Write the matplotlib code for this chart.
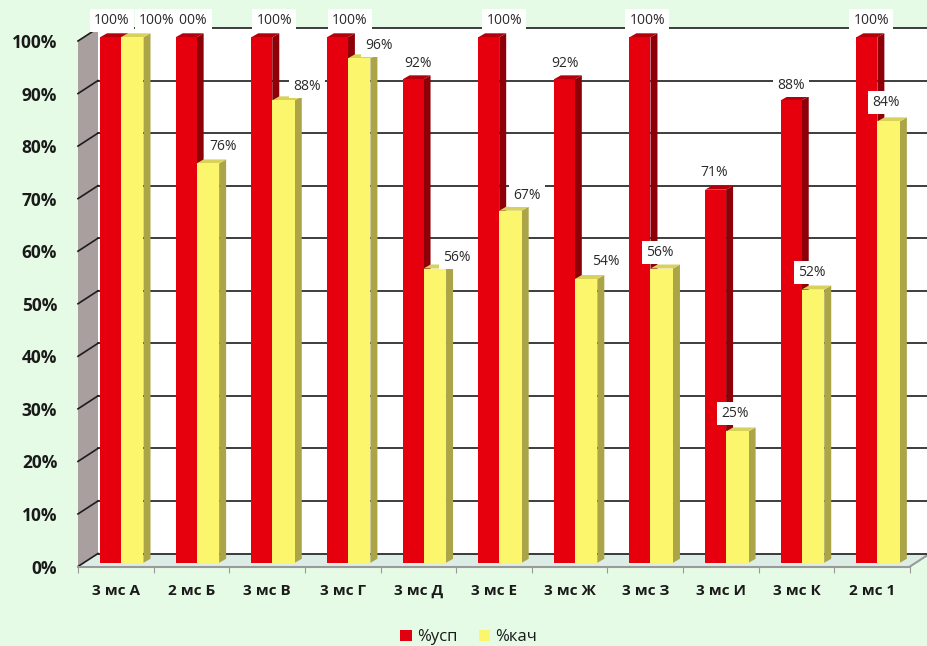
import matplotlib
matplotlib.use("Agg")
import matplotlib.pyplot as plt
from matplotlib.patches import Polygon, Rectangle, Patch

plt.rcParams['font.family'] = ['Open Sans', 'DejaVu Sans']

categories = ['3 мс А', '2 мс Б', '3 мс В', '3 мс Г', '3 мс Д', '3 мс Е', '3 мс Ж', '3 мс З', '3 мс И', '3 мс К', '2 мс 1']
usp = [100, 100, 100, 100, 92, 100, 92, 100, 71, 88, 100]
kach = [100, 76, 88, 96, 56, 67, 54, 56, 25, 52, 84]
y_ticks = list(range(0, 101, 10))
series_names = ['%усп', '%кач']

# label nudges, pixels from the bar's left top corner (layout only)
usp_dx = [12, 14, 23, 23, 15, 26, 11, 18, 9, 10, 15]
usp_dy = [13, 13, 13, 13, 12, 13, 12, 13, 13, 11, 13]
kach_dx = [36, 26, 35, 31, 33, 28, 31, 9, 9, 10, 9]
kach_dy = [13, 13, 10, 9, 7, 11, 14, 12, 14, 13, 15]

W, H = 928, 646
L, R, B, T = 78, 910, 566.5, 41
BG = '#E6FBE6'
fig = plt.figure(figsize=(W / 100, H / 100), dpi=100, facecolor=BG)
ax = fig.add_axes([L / W, 1 - B / H, (R - L) / W, (B - T) / H])
ax.set_xlim(0, len(categories))
ax.set_ylim(0, 100)
ax.patch.set_alpha(0)

ux = (R - L) / len(categories)   # px per category
uy = (B - T) / 100               # px per percent
wall_dx, wall_dy = 20 / ux, 13 / uy
depth_dx, depth_dy = 7 / ux, 4 / uy
base = 3.7 / uy
red_off, red_w = 22 / ux, 21 / ux
yel_off, yel_w = 43 / ux, 22.5 / ux
n = len(categories)

kw = dict(clip_on=False)
# back wall
ax.add_patch(Rectangle((wall_dx, wall_dy), n, 100, fc='white', ec='none', zorder=1, **kw))
# floor
ax.add_patch(Polygon([(0, 0), (n, 0), (n + wall_dx, wall_dy), (wall_dx, wall_dy)], fc='#DCEDE6', ec='none', zorder=1, **kw))
ax.plot([n, n + wall_dx], [0, wall_dy], color='#9a9a9a', lw=1.5, zorder=1.5, **kw)
# left wall
ax.add_patch(Polygon([(0, 0), (wall_dx, wall_dy), (wall_dx, 100 + wall_dy), (0, 100)], fc='#A99F9F', ec='none', zorder=1, **kw))
# grid lines
for v in y_ticks:
    ax.plot([wall_dx, n + wall_dx], [v + wall_dy] * 2, color='#1c1c1c', lw=1.2, zorder=2, **kw)
    ax.plot([0, wall_dx], [v, v + wall_dy], color='#1c1c1c', lw=1.2, zorder=2, **kw)


def bar3d(x, w, v, front, top, side, z):
    y0, y1 = base, base + v
    ax.add_patch(Polygon([(x + w, y0), (x + w + depth_dx, y0 + depth_dy), (x + w + depth_dx, y1 + depth_dy), (x + w, y1)],
                         fc=side, ec='none', zorder=z, **kw))
    ax.add_patch(Polygon([(x, y1), (x + depth_dx, y1 + depth_dy), (x + w + depth_dx, y1 + depth_dy), (x + w, y1)],
                         fc=top, ec='none', zorder=z, **kw))
    ax.add_patch(Rectangle((x, y0), w, v, fc=front, ec='none', zorder=z, **kw))


for i in range(n):
    bar3d(i + red_off, red_w, usp[i], '#E6000E', '#B4000A', '#8E0008', 3 + i * 0.01)
    bar3d(i + yel_off, yel_w, kach[i], '#FCF66C', '#D8D25A', '#ABA548', 3.5 + i * 0.01)

# value labels; earlier ones sit on top, so their white boxes can cover later ones
box = dict(boxstyle='square,pad=0.3', fc='white', ec='none')
for i in range(n):
    for vals, ref, dxs, dys, z in ((usp, red_off, usp_dx, usp_dy, 6), (kach, yel_off, kach_dx, kach_dy, 7)):
        ax.annotate(f'{vals[i]}%', (i + ref, base + vals[i] + depth_dy),
                    xytext=(dxs[i], dys[i]), textcoords='offset pixels',
                    ha='center', va='center', fontsize=10, color='#2a2a2a',
                    bbox=box, zorder=z + (n - i) * 0.01, annotation_clip=False)

for s in ('top', 'left', 'right'):
    ax.spines[s].set_visible(False)
ax.spines['bottom'].set_color('#9a9a9a')
ax.spines['bottom'].set_linewidth(1.5)
ax.spines['bottom'].set_zorder(2)

ax.set_yticks(y_ticks, [f'{v}%' for v in y_ticks], fontsize=12.5, fontweight='bold', color='#1a1a1a')
ax.tick_params(axis='y', length=0, pad=15)
ax.set_xticks(range(n + 1))
ax.tick_params(axis='x', length=4, color='#9a9a9a', labelbottom=False)
ax.set_xticks([i + 0.5 for i in range(n)], categories, minor=True, fontsize=11, fontweight='bold', color='#1a1a1a')
ax.tick_params(axis='x', which='minor', length=0, pad=12.5)

fig.legend(handles=[Patch(fc='#E00010', label=series_names[0]), Patch(fc='#FCF66C', label=series_names[1])],
           loc='lower center', bbox_to_anchor=(0.505, -0.022), ncol=2, frameon=False, fontsize=12,
           handlelength=0.7, handleheight=0.7, handletextpad=0.3, columnspacing=1.3, labelcolor='#1a1a1a')

fig.savefig('out.png', dpi=100, facecolor=BG)
